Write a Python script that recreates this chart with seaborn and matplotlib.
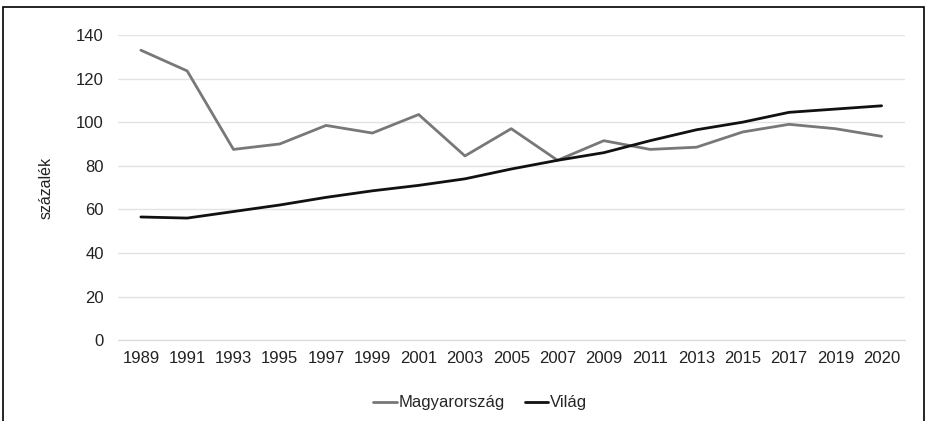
import matplotlib
matplotlib.use("Agg")
import matplotlib.pyplot as plt
import seaborn as sns
import pandas as pd
from matplotlib.patches import Rectangle

# Data
years = ["1989", "1991", "1993", "1995", "1997", "1999", "2001", "2003", "2005",
         "2007", "2009", "2011", "2013", "2015", "2017", "2019", "2020"]
magyarorszag = [133, 123.5, 87.5, 90, 98.5, 95, 103.5, 84.5, 97, 82.5,
                91.5, 87.5, 88.5, 95.5, 99, 97, 93.5]
vilag = [56.5, 56, 59, 62, 65.5, 68.5, 71, 74, 78.5, 82.5,
         86, 91.5, 96.5, 100, 104.5, 106, 107.5]

df = pd.DataFrame({
    "idx": list(range(len(years))) * 2,
    "value": magyarorszag + vilag,
    "series": ["Magyarország"] * len(years) + ["Világ"] * len(years),
})

sns.set_style("white")
plt.rcParams["font.family"] = ["Liberation Sans", "DejaVu Sans"]

fig = plt.figure(figsize=(9.27, 4.21), dpi=100)
ax = fig.add_axes([0.127, 0.192, 0.849, 0.725])

sns.lineplot(data=df, x="idx", y="value", hue="series",
             palette={"Magyarország": "#787878", "Világ": "#111111"},
             linewidth=2, ax=ax, legend=False, clip_on=False)

# Axis setup (Excel-like category axis)
ax.set_xlim(-0.5, len(years) - 0.5)
ax.set_ylim(0, 140)
ax.set_xticks(range(len(years)))
ax.set_xticklabels(years, fontsize=12, color="#222222")
ax.set_xticks([i - 0.5 for i in range(len(years) + 1)], minor=True)
ax.tick_params(axis="x", which="major", length=0, pad=8)
ax.tick_params(axis="x", which="minor", length=5, color="#d9d9d9", width=1)
ax.set_yticks(range(0, 141, 20))
ax.tick_params(axis="y", labelsize=12, labelcolor="#222222", length=0, pad=10)
ax.yaxis.grid(True, color="#e3e3e3", linewidth=1)
ax.set_axisbelow(True)
for s in ["top", "right", "left"]:
    ax.spines[s].set_visible(False)
ax.spines["bottom"].set_color("#d9d9d9")
ax.set_xlabel("")
ax.set_ylabel("százalék", fontsize=11.5, color="#222222", labelpad=16)

# Legend
handles = [plt.Line2D([], [], color="#787878", lw=2),
           plt.Line2D([], [], color="#111111", lw=2)]
fig.legend(handles, ["Magyarország", "Világ"], loc="center", ncol=2,
           bbox_to_anchor=(0.518, 0.043), frameon=False, fontsize=12,
           handlelength=1.4, handletextpad=0.1, columnspacing=1.2)

# Outer frame
fig.patches.append(Rectangle((0.0035, -0.1), 0.993, 1.083, transform=fig.transFigure,
                             fill=False, edgecolor="black", linewidth=1.2))

fig.savefig("out.png", dpi=100)
